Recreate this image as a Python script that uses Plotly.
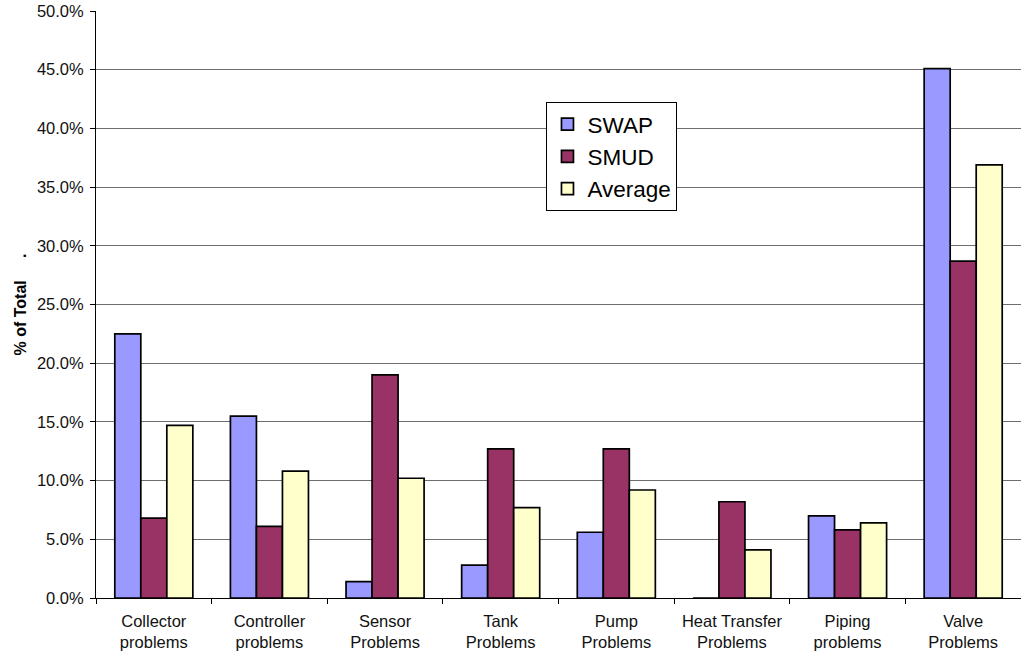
import plotly.graph_objects as go

categories = [
    "Collector<br>problems",
    "Controller<br>problems",
    "Sensor<br>Problems",
    "Tank<br>Problems",
    "Pump<br>Problems",
    "Heat Transfer<br>Problems",
    "Piping<br>problems",
    "Valve<br>Problems",
]
swap = [22.5, 15.5, 1.4, 2.8, 5.6, 0.0, 7.0, 45.1]
smud = [6.8, 6.1, 19.0, 12.7, 12.7, 8.2, 5.8, 28.7]
average = [14.7, 10.8, 10.2, 7.7, 9.2, 4.1, 6.4, 36.9]

y_ticks = [0, 5, 10, 15, 20, 25, 30, 35, 40, 45, 50]

FONT = "Arial, Liberation Sans, sans-serif"

series = [
    ("SWAP", swap, "#9999FF"),
    ("SMUD", smud, "#993366"),
    ("Average", average, "#FFFFCC"),
]

fig = go.Figure()
for name, vals, color in series:
    fig.add_trace(
        go.Bar(
            name=name,
            x=categories,
            y=vals,
            marker=dict(color=color, line=dict(color="black", width=1.7)),
        )
    )

fig.update_layout(
    width=1021,
    height=660,
    margin=dict(l=96, r=0, t=11, b=62),
    paper_bgcolor="white",
    plot_bgcolor="white",
    barmode="group",
    bargap=0.325,
    bargroupgap=0,
    font=dict(family=FONT, color="black"),
    legend=dict(
        x=0.487,
        y=0.845,
        xanchor="left",
        yanchor="top",
        bgcolor="white",
        bordercolor="black",
        borderwidth=1,
        font=dict(size=22.5, family=FONT, color="black"),
        tracegroupgap=0,
        itemwidth=30,
    ),
    showlegend=True,
)

fig.update_xaxes(
    type="category",
    showline=True,
    linecolor="black",
    linewidth=1,
    showgrid=False,
    ticks="outside",
    tickson="boundaries",
    ticklen=5,
    tickcolor="black",
    ticklabelstandoff=8,
    tickfont=dict(size=16.5, family=FONT, color="#111"),
)

fig.update_yaxes(
    range=[0, 50],
    tickvals=y_ticks,
    ticktext=[f"{v:.1f}%" for v in y_ticks],
    showline=True,
    linecolor="black",
    linewidth=1,
    showgrid=True,
    gridcolor="#6e6e6e",
    gridwidth=1,
    zeroline=False,
    ticks="outside",
    ticklen=5,
    tickcolor="black",
    ticklabelstandoff=3,
    tickfont=dict(size=16.5, family=FONT, color="#111"),
    title=dict(
        text="<b>% of Total\u00a0\u00a0\u00a0\u00a0\u00a0.</b>",
        font=dict(size=16, family=FONT, color="black"),
        standoff=6,
    ),
)

fig.write_html("out.html")
